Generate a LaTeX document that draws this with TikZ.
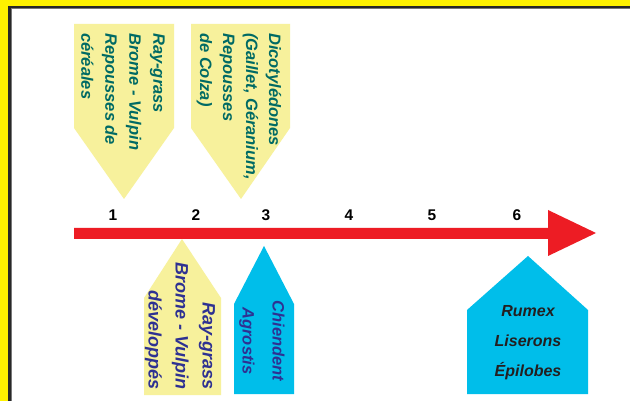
\documentclass[tikz,border=0pt]{standalone}
\usepackage{fontspec}
\setmainfont{Liberation Sans}
\definecolor{frameyellow}{RGB}{255,242,0}
\definecolor{framedark}{RGB}{40,40,40}
\definecolor{framegray}{RGB}{120,120,120}
\definecolor{paleyellow}{RGB}{247,241,156}
\definecolor{skycyan}{RGB}{0,190,234}
\definecolor{arrowred}{RGB}{237,28,36}
\definecolor{tealtext}{RGB}{0,106,100}
\definecolor{bluetext}{RGB}{46,49,146}
\definecolor{darktext}{RGB}{35,31,32}
\begin{document}
\begin{tikzpicture}[x=1pt,y=-1pt,
  yellowtag/.style={fill=paleyellow},
  cyantag/.style={fill=skycyan},
  vtext/.style={rotate=-90, inner sep=0pt, font=\bfseries\itshape},
  toptext/.style={vtext, align=left, text=tealtext},
  numlabel/.style={font=\fontsize{15.5}{17}\selectfont\bfseries, inner sep=0pt}]
\useasboundingbox (0,0) rectangle (630,401);
% frame
\fill[frameyellow] (0,0) rectangle (630,401);
\fill[framedark] (8,6) rectangle (630,401);
\fill[framegray] (10.5,8.5) rectangle (630,401);
\fill[white] (11.5,9.5) rectangle (630,401);
% top tags
\fill[yellowtag] (74,24) -- (174,24) -- (174,128) -- (124,199) -- (74,128) -- cycle;
\fill[yellowtag] (191,24) -- (290,24) -- (290,128) -- (241,199) -- (191,128) -- cycle;
\node[toptext, anchor=west, font=\fontsize{16.5}{24}\selectfont\bfseries\itshape] (t1) at (123,33)
  {Ray-grass\\Brome - Vulpin\\Repousses de\\céréales};
\node[toptext, anchor=west, font=\fontsize{16.5}{23}\selectfont\bfseries\itshape] (t2) at (239,33)
  {Dicotylédones\\(Gaillet, Géranium,\\Repousses\\de Colza)};
% arrow
\fill[arrowred] (74,228) -- (548,228) -- (548,210) -- (596,233) -- (548,256) -- (548,239) -- (74,239) -- cycle;
\foreach \n/\x in {1/113,2/196,3/266,4/349,5/432,6/517}
  \node[numlabel] (n\n) at (\x,215) {\n};
% bottom tags
\fill[yellowtag] (144,395) -- (144,298) -- (182,239) -- (221,298) -- (221,395) -- cycle;
\fill[cyantag] (234,394) -- (234,304) -- (264,246) -- (294,304) -- (294,394) -- cycle;
\fill[cyantag] (467,394) -- (467,310) -- (528,256) -- (588,310) -- (588,394) -- cycle;
\node[vtext, align=right, anchor=east, text=bluetext, font=\fontsize{18}{27}\selectfont\bfseries\itshape] (b1) at (180,390)
  {Ray-grass\\Brome - Vulpin\\développés};
\node[vtext, align=center, anchor=center, text=bluetext, font=\fontsize{16.5}{30}\selectfont\bfseries\itshape] (b2) at (262,341)
  {Chiendent\\Agrostis};
\node[align=center, inner sep=0pt, text=darktext, font=\fontsize{16}{30}\selectfont\bfseries\itshape] (b3) at (528,343)
  {Rumex\\Liserons\\Épilobes};
\end{tikzpicture}
\end{document}
